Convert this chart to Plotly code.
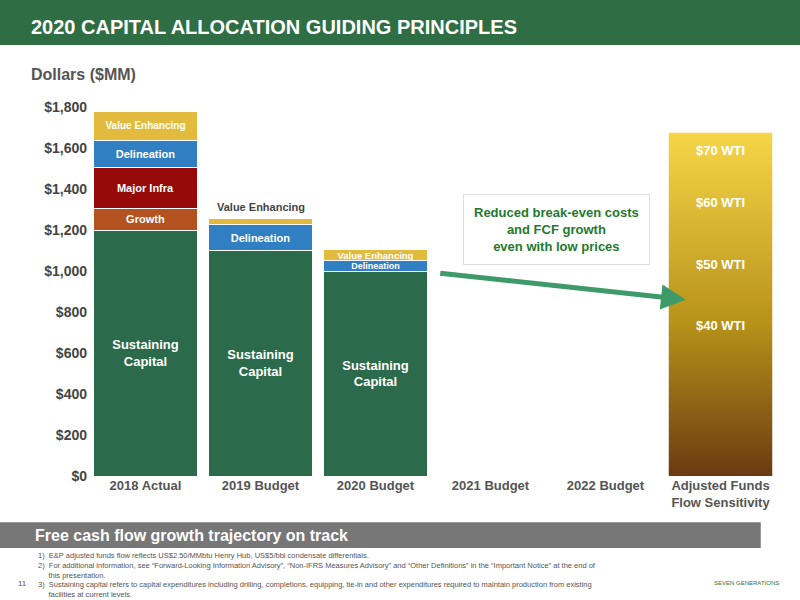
import plotly.graph_objects as go

categories = ["2018 Actual", "2019 Budget", "2020 Budget", "2021 Budget", "2022 Budget",
              "Adjusted Funds<br>Flow Sensitivity"]
sustaining = [1200, 1100, 1000]
growth = [105, 0, 0]
major_infra = [200, 0, 0]
delineation = [130, 125, 50]
value_enh = [145, 30, 55]
afs_total = 1675
wti_labels = ["$70 WTI", "$60 WTI", "$50 WTI", "$40 WTI"]
wti_values = [1590, 1332, 1030, 732]

x = [0, 1, 2]
W = 0.9
FONT = "Liberation Sans"

fig = go.Figure()


def seg(vals, color, label, size=11):
    txt = [label if v else "" for v in vals]
    fig.add_bar(x=x, y=vals, width=W, marker=dict(color=color, line=dict(color="white", width=1)),
                text=txt, textposition="inside", insidetextanchor="middle", constraintext="none",
                textfont=dict(color="white", size=size, family=FONT), showlegend=False,
                hoverinfo="y")


seg(sustaining, "#2b6a4a", "<b>Sustaining<br>Capital</b>", 13)
seg(growth, "#b4531f", "<b>Growth</b>")
seg(major_infra, "#960a0a", "<b>Major Infra</b>")
fig.add_bar(x=x, y=delineation, width=W, marker=dict(color="#2f7fc2", line=dict(color="white", width=1)),
            text=["<b>Delineation</b>", "<b>Delineation</b>", "<b>Delineation</b>"],
            textposition="inside", insidetextanchor="middle", constraintext="none",
            textfont=dict(color="white", size=[11, 11, 9], family=FONT), showlegend=False)
fig.add_bar(x=x, y=value_enh, width=W, marker=dict(color="#e2bb3e", line=dict(color="white", width=1)),
            text=["<b>Value Enhancing</b>", "", "<b>Value Enhancing</b>"],
            textposition="inside", insidetextanchor="middle", constraintext="none",
            textfont=dict(color="white", size=[10, 10, 9.5], family=FONT), showlegend=False)

# 2019 value enhancing label above bar
fig.add_annotation(x=1, y=sum([sustaining[1], delineation[1], value_enh[1]]), yshift=12,
                   text="<b>Value Enhancing</b>", showarrow=False,
                   font=dict(size=11, color="#444", family=FONT))

# sensitivity gradient bar
fig.add_trace(go.Scatter(x=[5 - W / 2, 5 + W / 2, 5 + W / 2, 5 - W / 2, 5 - W / 2],
                         y=[0, 0, afs_total, afs_total, 0], mode="lines", line=dict(width=0),
                         fill="toself",
                         fillgradient=dict(type="vertical",
                                           colorscale=[[0, "#6b3a12"], [0.45, "#b8931a"], [1, "#f6d648"]]),
                         showlegend=False, hoverinfo="skip"))
for lab, v in zip(wti_labels, wti_values):
    fig.add_annotation(x=5, y=v, text=f"<b>{lab}</b>", showarrow=False,
                       font=dict(size=13, color="white", family=FONT))

# arrow
fig.add_annotation(x=4.7, y=860, ax=2.55, ay=990, axref="x", ayref="y", xref="x", yref="y",
                   text="", showarrow=True, arrowhead=2, arrowsize=1, arrowwidth=5,
                   arrowcolor="#3f9a6a")
fig.add_annotation(x=0.679, y=0.667, xref="paper", yref="paper", xanchor="center", yanchor="middle",
                   text="<b>Reduced break-even costs<br>and FCF growth<br>even with low prices</b>",
                   showarrow=False, font=dict(size=13, color="#1e7a2e", family=FONT),
                   bgcolor="white", bordercolor="#dddddd", borderwidth=1, borderpad=10)

# header, subtitle, banner, footnotes
fig.add_shape(type="rect", xref="paper", yref="paper", x0=-0.2, x1=1.1, y0=1.168, y1=1.3,
              fillcolor="#2f6e44", line_width=0, layer="below")
fig.add_annotation(x=-0.085, y=1.217, xref="paper", yref="paper", xanchor="left", yanchor="middle",
                   text="<b>2020 CAPITAL ALLOCATION GUIDING PRINCIPLES</b>", showarrow=False,
                   font=dict(size=20, color="white", family=FONT))
fig.add_annotation(x=-0.085, y=1.087, xref="paper", yref="paper", xanchor="left", yanchor="middle",
                   text="<b>Dollars ($MM)</b>", showarrow=False,
                   font=dict(size=16, color="#555", family=FONT))
fig.add_shape(type="rect", xref="paper", yref="paper", x0=-0.2, x1=0.975, y0=-0.125, y1=-0.195,
              fillcolor="#777777", line_width=0)
fig.add_annotation(x=-0.08, y=-0.16, xref="paper", yref="paper", xanchor="left", yanchor="middle",
                   text="<b>Free cash flow growth trajectory on track</b>", showarrow=False,
                   font=dict(size=16, color="white", family=FONT))
notes = ("1)  E&P adjusted funds flow reflects US$2.50/MMbtu Henry Hub, US$5/bbl condensate differentials.<br>"
         "2)  For additional information, see “Forward-Looking Information Advisory”, “Non-IFRS Measures Advisory” and “Other Definitions” in the “Important Notice” at the end of<br>"
         "     this presentation.<br>"
         "3)  Sustaining capital refers to capital expenditures including drilling, completions, equipping, tie-in and other expenditures required to maintain production from existing<br>"
         "     facilities at current levels.")
fig.add_annotation(x=-0.075, y=-0.198, xref="paper", yref="paper", xanchor="left", yanchor="top",
                   align="left", text=notes, showarrow=False,
                   font=dict(size=7.5, color="#555", family=FONT))
fig.add_annotation(x=-0.105, y=-0.29, xref="paper", yref="paper", xanchor="left", yanchor="middle",
                   text="11", showarrow=False, font=dict(size=8, color="#555", family=FONT))
fig.add_annotation(x=0.955, y=-0.29, xref="paper", yref="paper", xanchor="center", yanchor="middle",
                   text="SEVEN GENERATIONS", showarrow=False, font=dict(size=6, color="#2f6e44", family=FONT))

fig.update_layout(
    width=800, height=600, barmode="stack", plot_bgcolor="white", paper_bgcolor="white",
    margin=dict(l=88, r=22, t=107, b=124), bargap=0.1,
    xaxis=dict(range=[-0.5, 5.5], tickvals=list(range(6)), ticktext=[f"<b>{c}</b>" for c in categories],
               tickfont=dict(size=13, color="#555", family=FONT), showgrid=False, zeroline=False),
    yaxis=dict(range=[0, 1800], tickfont=dict(size=14, color="#444", family=FONT),
               showgrid=False, zeroline=False, ticks="",
               tickvals=list(range(0, 1801, 200)),
               ticktext=[f"<b>${v:,}</b>" for v in range(0, 1801, 200)]),
    font=dict(family=FONT),
)

fig.write_html("out.html", config={"displayModeBar": False},
               post_script="document.body.style.margin='0';")
